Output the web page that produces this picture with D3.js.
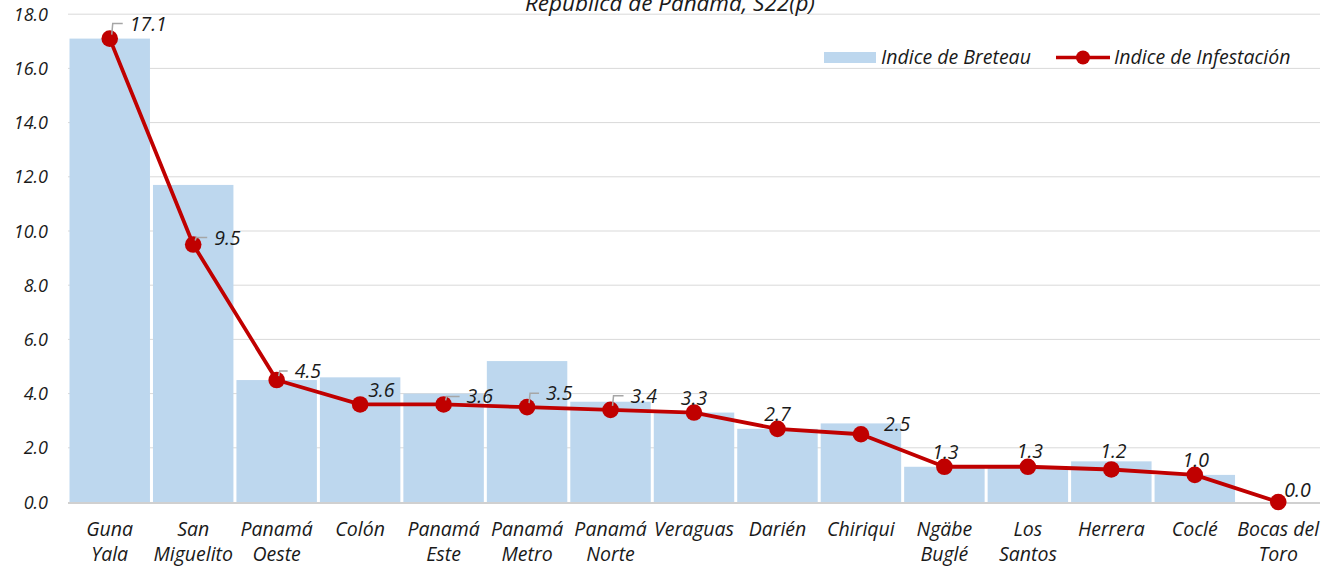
<!DOCTYPE html>
<html>
<head>
<meta charset="utf-8">
<script src="https://cdn.jsdelivr.net/npm/d3@7"></script>
<style>
  body { margin: 0; background: #ffffff; }
  svg text { font-family: "Open Sans", Lato, sans-serif; font-style: italic; fill: #1a1a1a; }
</style>
</head>
<body>
<div id="chart"></div>
<script>
var categories = ['Guna\nYala', 'San\nMiguelito', 'Panamá\nOeste', 'Colón', 'Panamá\nEste', 'Panamá\nMetro',
    'Panamá\nNorte', 'Veraguas', 'Darién', 'Chiriqui', 'Ngäbe\nBuglé', 'Los\nSantos', 'Herrera', 'Coclé', 'Bocas del\nToro']
var breteau = [17.1, 11.7, 4.5, 4.6, 4.0, 5.2, 3.7, 3.3, 2.7, 2.9, 1.3, 1.3, 1.5, 1.0, 0.0]
var infestacion = [17.1, 9.5, 4.5, 3.6, 3.6, 3.5, 3.4, 3.3, 2.7, 2.5, 1.3, 1.3, 1.2, 1.0, 0.0]
var yTicks = [0, 2, 4, 6, 8, 10, 12, 14, 16, 18]
var title = 'República de Panamá, S22(p)'
var seriesNames = ['Indice de Breteau', 'Indice de Infestación']

// label placement for the line's data labels: [dx, dy, leader line?]
var labelNudge = [[23, -15, true], [24, -7, true], [21, -9, true], [11, -14, false], [26, -8, true], [22, -14, true],
    [23, -14, true], [0, -15, false], [0, -15, false], [26, -10, false], [1, -15, false], [2, -16, false],
    [2, -18, false], [1, -15, false], [9, -12, false]]

var chart = (function(){
    var width = 1322
    var height = 566
    var left = 68
    var right = 1320
    var top = 14.2
    var bottom = 502
    var fontSize = 19.5
    var tickSize = 18

    var svg = d3.select('#chart').append('svg')
        .attr('width', width)
        .attr('height', height)

    var x = d3.scaleBand()
        .domain(d3.range(categories.length))
        .range([left, right])
        .paddingInner(0.036)
        .paddingOuter(0.018)

    var y = d3.scaleLinear().domain([0, 18]).range([bottom, top])

    function cx(i){
        return x(i) + x.bandwidth() / 2
    }

    function drawGrid(){
        svg.append('g').selectAll('line')
            .data(yTicks.filter(function(t){ return t > 0 }))
            .enter()
            .append('line')
            .attr('x1', left)
            .attr('x2', right)
            .attr('y1', function(d){ return y(d) })
            .attr('y2', function(d){ return y(d) })
            .attr('stroke', '#d9d9d9')
            .attr('stroke-width', 1)

        svg.append('g').selectAll('text')
            .data(yTicks)
            .enter()
            .append('text')
            .attr('x', 48)
            .attr('y', function(d){ return y(d) + 6.5 })
            .attr('text-anchor', 'end')
            .attr('font-size', tickSize)
            .text(function(d){ return d.toFixed(1) })
    }

    function drawBars(){
        svg.append('g').selectAll('rect')
            .data(breteau)
            .enter()
            .append('rect')
            .attr('x', function(d, i){ return x(i) })
            .attr('y', function(d){ return y(d) })
            .attr('width', x.bandwidth())
            .attr('height', function(d){ return bottom - y(d) })
            .attr('fill', '#bdd7ee')

        svg.append('line')
            .attr('x1', left)
            .attr('x2', right)
            .attr('y1', bottom + 1)
            .attr('y2', bottom + 1)
            .attr('stroke', '#d0d0d0')
            .attr('stroke-width', 2)
    }

    function drawLine(){
        var line = d3.line()
            .x(function(d, i){ return cx(i) })
            .y(function(d){ return y(d) })

        svg.append('path')
            .datum(infestacion)
            .attr('d', line)
            .attr('fill', 'none')
            .attr('stroke', '#c00000')
            .attr('stroke-width', 3.8)
            .attr('stroke-linejoin', 'round')

        svg.append('g').selectAll('circle')
            .data(infestacion)
            .enter()
            .append('circle')
            .attr('cx', function(d, i){ return cx(i) })
            .attr('cy', function(d){ return y(d) })
            .attr('r', 8.3)
            .attr('fill', '#c00000')

        var labels = svg.append('g')
        infestacion.forEach(function(d, i){
            var px = cx(i)
            var py = y(d)
            var n = labelNudge[i]
            var lx = px + n[0]
            var ly = py + n[1]
            if(n[2]){
                labels.append('path')
                    .attr('d', 'M' + (px + 2) + ',' + (py - 4) + 'L' + (px + 3) + ',' + ly + 'L' + (lx - 10) + ',' + ly)
                    .attr('fill', 'none')
                    .attr('stroke', '#a6a6a6')
                    .attr('stroke-width', 1.5)
            }
            labels.append('text')
                .attr('x', n[2] || n[0] > 5 ? lx - 3 : lx)
                .attr('y', ly + 7)
                .attr('text-anchor', n[2] || n[0] > 5 ? 'start' : 'middle')
                .attr('font-size', fontSize)
                .text(d.toFixed(1))
        })
    }

    function drawCategories(){
        var g = svg.append('g')
        categories.forEach(function(c, i){
            var t = g.append('text')
                .attr('x', cx(i))
                .attr('y', 536)
                .attr('text-anchor', 'middle')
                .attr('font-size', fontSize)
            c.split('\n').forEach(function(part, k){
                t.append('tspan')
                    .attr('x', cx(i))
                    .attr('dy', k === 0 ? 0 : 24.5)
                    .text(part)
            })
        })
    }

    function drawLegend(){
        svg.append('rect')
            .attr('x', 824)
            .attr('y', 52)
            .attr('width', 52)
            .attr('height', 11)
            .attr('fill', '#bdd7ee')
        svg.append('text')
            .attr('x', 881)
            .attr('y', 64)
            .attr('font-size', fontSize)
            .text(seriesNames[0])

        svg.append('line')
            .attr('x1', 1056)
            .attr('x2', 1110)
            .attr('y1', 57.5)
            .attr('y2', 57.5)
            .attr('stroke', '#c00000')
            .attr('stroke-width', 3.5)
        svg.append('circle')
            .attr('cx', 1083)
            .attr('cy', 57.5)
            .attr('r', 7)
            .attr('fill', '#c00000')
        svg.append('text')
            .attr('x', 1114)
            .attr('y', 64)
            .attr('font-size', fontSize)
            .text(seriesNames[1])
    }

    function drawTitle(){
        svg.append('text')
            .attr('x', 670)
            .attr('y', 11)
            .attr('text-anchor', 'middle')
            .attr('font-size', 22.5)
            .text(title)
    }

    return {
        create: function(){
            drawGrid()
            drawBars()
            drawLine()
            drawCategories()
            drawLegend()
            drawTitle()
        }
    }
})()

chart.create()
</script>
</body>
</html>
